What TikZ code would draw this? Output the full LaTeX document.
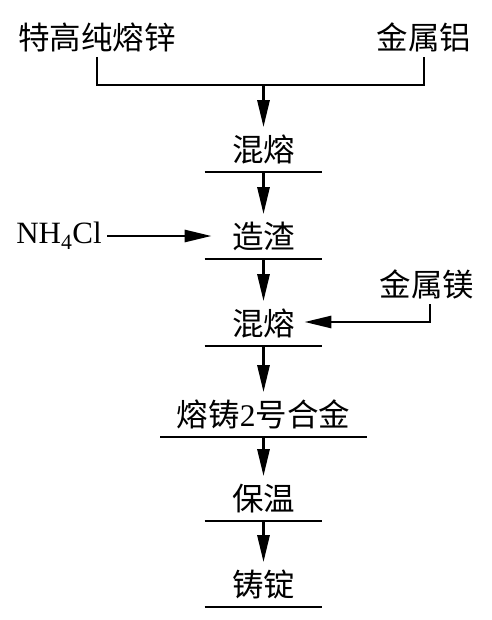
\documentclass[tikz,border=0pt]{standalone}
\usepackage{fontspec}
\setmainfont{Liberation Serif}
\newfontfamily\cjk{Noto Sans CJK SC}
\usetikzlibrary{arrows.meta}

\begin{document}
\begin{tikzpicture}[x=1pt,y=-1pt,
    line width=2.8pt,
    flow/.style={-{Triangle[length=27pt,width=12pt]}},
    stage/.style={minimum width=115pt, inner sep=0pt, text height=33pt, text depth=9pt,
        anchor=south, font=\cjk\fontsize{31.5}{31.5}\selectfont},
    feed/.style={inner sep=4pt, font=\cjk\fontsize{31.5}{31.5}\selectfont}]
    \useasboundingbox (0,0) rectangle (491,620);
    % raw materials
    \node[feed] (zn) at (97,37) {特高纯熔锌};
    \node[feed] (al) at (424,37) {金属铝};
    \coordinate (join) at (263.5,85);
    \draw (zn.south) |- (join) -| (al.south);
    % process steps
    \node[stage] (mix1) at (263.5,172) {混熔};
    \node[stage] (slag) at (263.5,259) {造渣};
    \node[stage] (mix2) at (263.5,346) {混熔};
    \node[stage, minimum width=204pt] (cast) at (263.5,437) {熔铸{\rmfamily 2}号合金};
    \node[stage] (keep) at (263.5,521) {保温};
    \node[stage] (ingot) at (263.5,607) {铸锭};
    \foreach \n in {mix1,slag,mix2,cast,keep,ingot}
        \draw (\n.south west) -- (\n.south east);
    % main flow
    \draw[flow] (join) -- (mix1.north);
    \draw[flow] (mix1.south) -- (slag.north);
    \draw[flow] (slag.south) -- (mix2.north);
    \draw[flow] (mix2.south) -- (cast.north);
    \draw[flow] (cast.south) -- (keep.north);
    \draw[flow] (keep.south) -- (ingot.north);
    % additions
    \node[inner sep=4pt, font=\fontsize{31}{31}\selectfont] (nh4cl) at (59,236) {NH\textsubscript{4}Cl};
    \coordinate (slagin) at ([xshift=7pt]slag.west);
    \draw[flow] (nh4cl.east) -- (nh4cl.east -| slagin);
    \node[feed] (mg) at (427,284) {金属镁};
    \coordinate (mgbend) at (430,322);
    \coordinate (mixin) at ([xshift=-18pt]mix2.east);
    \draw[flow] (mg.south -| mgbend) -- (mgbend) -- (mgbend -| mixin);
\end{tikzpicture}
\end{document}
